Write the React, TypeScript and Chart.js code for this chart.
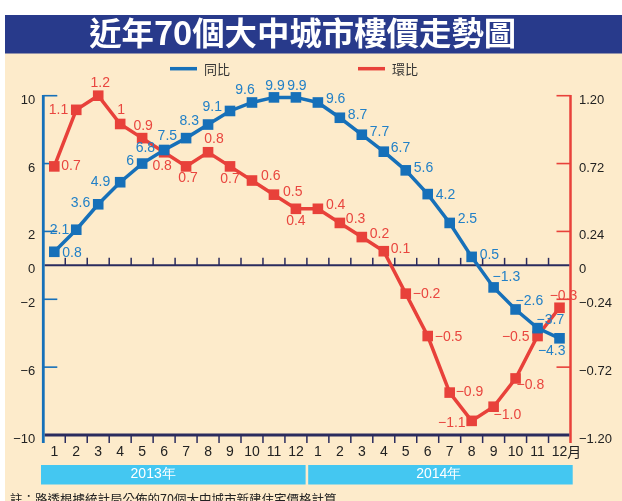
import React, { useEffect, useRef } from 'react';
import { Chart, registerables } from 'chart.js';

Chart.register(...registerables);

// ---------- data ----------
const MONTHS = ['1', '2', '3', '4', '5', '6', '7', '8', '9', '10', '11', '12', '1', '2', '3', '4', '5', '6', '7', '8', '9', '10', '11', '12'];
const YEARS = ['2013年', '2014年'];
const SERIES_NAMES = ['同比', '環比'];
const YOY = [0.8, 2.1, 3.6, 4.9, 6, 6.8, 7.5, 8.3, 9.1, 9.6, 9.9, 9.9, 9.6, 8.7, 7.7, 6.7, 5.6, 4.2, 2.5, 0.5, -1.3, -2.6, -3.7, -4.3];
const MOM = [0.7, 1.1, 1.2, 1, 0.9, 0.8, 0.7, 0.8, 0.7, 0.6, 0.5, 0.4, 0.4, 0.3, 0.2, 0.1, -0.2, -0.5, -0.9, -1.1, -1.0, -0.8, -0.5, -0.3];
const LEFT_TICKS = [10, 6, 2, 0, -2, -6, -10];
const RIGHT_TICKS = [1.2, 0.72, 0.24, 0, -0.24, -0.72, -1.2];
const TITLE = '近年70個大中城市樓價走勢圖';
const NOTE = '註：路透根據統計局公佈的70個大中城市新建住宅價格計算';

// ---------- label placement (align, dx, dy) ----------
const YOY_LABEL_POS: [string, number, number][] = [
  ['l', 8, 1], ['r', -7, 0], ['r', -8, -1], ['r', -10, 0], ['r', -8, -2.5], ['r', -9, -2],
  ['r', -9, -2], ['r', -9, -3], ['r', -8, -4], ['c', -7, -12], ['c', 1, -11], ['c', 1, -11],
  ['l', 8, -3], ['l', 8, -3], ['l', 8, -3], ['l', 7, -4], ['l', 8, -2], ['l', 8, 1],
  ['l', 8, -4], ['l', 8, -2], ['l', -1, -10], ['l', 0, -8], ['l', -1, -8], ['r', 6, 13],
];
const MOM_LABEL_POS: [string, number, number][] = [
  ['l', 7, 0], ['r', -8, 0], ['c', 2, -13], ['c', 1, -14], ['c', 1, -12], ['c', -2, 14],
  ['c', 2, 12], ['c', 6, -13], ['c', 0, 13], ['l', 9, -4], ['l', 9, -3], ['c', 0, 12.5],
  ['l', 8, -3.5], ['l', 6, -4], ['l', 8, -3], ['l', 7, -2], ['l', 7, 1], ['l', 7, 1],
  ['l', 6, 0], ['r', -6, 2], ['l', 0, 8], ['l', 1, 7], ['r', -8, 1], ['c', 4, -12],
];

// ---------- styles ----------
const W = 622;
const H = 501;
const BLUE = '#1670B9';
const BLUE_TXT = '#2280C7';
const RED = '#E8413A';
const RED_TXT = '#E9463F';
const NAVY = '#2A2B5E';
const BG = '#FDEBCB';
const TITLE_BG = '#283A8B';
const YEAR_BG = '#44C7F1';
const TEXT = '#222222';
const LATIN = '"Liberation Sans", Arial, Helvetica, sans-serif';
const CJK = '"Noto Sans CJK TC", "Noto Sans CJK SC", sans-serif';

const fmt = (v: number) => (v === -1 ? '−1.0' : String(v).replace('-', '−'));

const line = (ctx: CanvasRenderingContext2D, x1: number, y1: number, x2: number, y2: number) => {
  ctx.beginPath();
  ctx.moveTo(x1, y1);
  ctx.lineTo(x2, y2);
  ctx.stroke();
};

const decorPlugin = {
  id: 'decor',
  beforeDraw(chart: any) {
    const ctx: CanvasRenderingContext2D = chart.ctx;
    const { left, right } = chart.chartArea;
    const step = (right - left) / MONTHS.length;
    ctx.save();
    ctx.fillStyle = '#ffffff';
    ctx.fillRect(0, 0, W, H);
    ctx.fillStyle = BG;
    ctx.fillRect(5, 15, W - 5, H - 15);
    ctx.fillStyle = TITLE_BG;
    ctx.fillRect(5, 15, W - 5, 38.5);

    // title
    ctx.save();
    ctx.font = `bold 32px ${CJK}`;
    const tw = ctx.measureText(TITLE).width;
    ctx.translate(302.7, 33);
    ctx.scale(427 / tw, 1);
    ctx.fillStyle = '#ffffff';
    ctx.textAlign = 'center';
    ctx.textBaseline = 'middle';
    ctx.fillText(TITLE, 0, 0);
    ctx.restore();

    // legend
    const legendItems = [
      { name: SERIES_NAMES[0], color: BLUE, x: 170 },
      { name: SERIES_NAMES[1], color: RED, x: 358 },
    ];
    ctx.lineWidth = 3.5;
    ctx.font = `13px ${CJK}`;
    ctx.textAlign = 'left';
    ctx.textBaseline = 'middle';
    legendItems.forEach((it) => {
      ctx.strokeStyle = it.color;
      line(ctx, it.x, 68.7, it.x + 27, 68.7);
      ctx.fillStyle = '#333333';
      ctx.fillText(it.name, it.x + 34, 68.7);
    });

    // year bars
    const mid = left + 12 * step;
    ctx.fillStyle = YEAR_BG;
    ctx.fillRect(left - 2.3, 465, mid - 1.3 - (left - 2.3), 19.5);
    ctx.fillRect(mid + 1.3, 465, right + 2.2 - (mid + 1.3), 19.5);
    ctx.fillStyle = '#ffffff';
    ctx.font = `14px ${LATIN}`;
    ctx.textAlign = 'center';
    ctx.fillText(YEARS[0], left + 5 * step, 474.5);
    ctx.fillText(YEARS[1], left + 18 * step, 474.5);

    // note
    ctx.fillStyle = TEXT;
    ctx.font = `12.5px ${CJK}`;
    ctx.textAlign = 'left';
    ctx.textBaseline = 'top';
    ctx.fillText(NOTE, 10, 493);
    ctx.restore();
  },
  beforeDatasetsDraw(chart: any) {
    const ctx: CanvasRenderingContext2D = chart.ctx;
    const { left, right, top, bottom } = chart.chartArea;
    const y = chart.scales.y;
    const y1 = chart.scales.y1;
    const step = (right - left) / MONTHS.length;
    const zeroY = y.getPixelForValue(0);
    ctx.save();
    ctx.lineCap = 'butt';
    // left axis
    ctx.strokeStyle = BLUE;
    ctx.lineWidth = 1.6;
    LEFT_TICKS.filter((v) => v !== 0 && v !== -10).forEach((v) => {
      const p = y.getPixelForValue(v);
      line(ctx, left, p, left + 14, p);
    });
    ctx.lineWidth = 2.8;
    line(ctx, left, top - 0.8, left, bottom + 8);
    // right axis
    ctx.strokeStyle = RED;
    ctx.lineWidth = 1.6;
    RIGHT_TICKS.filter((v) => v !== 0 && v !== -1.2).forEach((v) => {
      const p = y1.getPixelForValue(v);
      line(ctx, right - 14, p, right, p);
    });
    ctx.lineWidth = 2.5;
    line(ctx, right, top - 0.8, right, bottom + 8);
    // zero line
    ctx.strokeStyle = NAVY;
    ctx.lineWidth = 2;
    line(ctx, left + 1.4, zeroY, right - 1.2, zeroY);
    ctx.lineWidth = 1.5;
    for (let k = 1; k < MONTHS.length; k++) {
      const bx = left + k * step;
      line(ctx, bx, zeroY - 7.5, bx, zeroY);
    }
    // bottom line
    ctx.lineWidth = 3;
    line(ctx, left + 1.4, bottom, right - 1.2, bottom);
    ctx.lineWidth = 1.5;
    for (let k = 1; k < MONTHS.length; k++) {
      const bx = left + k * step;
      line(ctx, bx, bottom, bx, bottom + 8);
    }
    ctx.restore();
  },
  afterDatasetsDraw(chart: any) {
    const ctx: CanvasRenderingContext2D = chart.ctx;
    ctx.save();
    ctx.font = `14px ${LATIN}`;
    ctx.textBaseline = 'middle';
    const draw = (dsIndex: number, values: number[], pos: [string, number, number][], color: string) => {
      const meta = chart.getDatasetMeta(dsIndex);
      meta.data.forEach((pt: any, i: number) => {
        const [al, dx, dy] = pos[i];
        ctx.textAlign = al === 'l' ? 'left' : al === 'r' ? 'right' : 'center';
        ctx.fillStyle = color;
        ctx.fillText(fmt(values[i]), pt.x + dx, pt.y + dy);
      });
    };
    draw(1, MOM, MOM_LABEL_POS, RED_TXT);
    draw(0, YOY, YOY_LABEL_POS, BLUE_TXT);
    // "月" after the last month label
    const x = chart.scales.x;
    const lastX = x.getPixelForValue(MONTHS.length - 1);
    ctx.font = `14px ${LATIN}`;
    const w12 = ctx.measureText(MONTHS[MONTHS.length - 1]).width;
    ctx.font = `14px ${CJK}`;
    ctx.fillStyle = TEXT;
    ctx.textAlign = 'left';
    ctx.fillText('月', lastX + w12 / 2, chart.chartArea.bottom + 17);
    ctx.restore();
  },
};

export default function App() {
  const ref = useRef<HTMLCanvasElement>(null);
  useEffect(() => {
    if (!ref.current) return;
    const chart = new Chart(ref.current, {
      type: 'line',
      data: {
        labels: MONTHS,
        datasets: [
          {
            label: SERIES_NAMES[0],
            data: YOY,
            yAxisID: 'y',
            borderColor: BLUE,
            backgroundColor: BLUE,
            borderWidth: 3.5,
            pointStyle: 'rect',
            pointRadius: 7.5,
            pointBorderWidth: 0,
            pointBackgroundColor: BLUE,
            tension: 0,
            clip: false as any,
          },
          {
            label: SERIES_NAMES[1],
            data: MOM,
            yAxisID: 'y1',
            borderColor: RED,
            backgroundColor: RED,
            borderWidth: 3.5,
            pointStyle: 'rect',
            pointRadius: 7.5,
            pointBorderWidth: 0,
            pointBackgroundColor: RED,
            tension: 0,
            clip: false as any,
          },
        ],
      },
      options: {
        responsive: false,
        animation: false,
        devicePixelRatio: 1,
        events: [],
        layout: { padding: { top: 95.7, left: 0, right: 0, bottom: 0 } },
        plugins: { legend: { display: false }, tooltip: { enabled: false } },
        scales: {
          x: {
            type: 'category',
            offset: true,
            grid: { display: false, drawTicks: false },
            border: { display: false },
            ticks: {
              autoSkip: false,
              maxRotation: 0,
              padding: 9,
              color: TEXT,
              font: { size: 14, family: LATIN },
            },
            afterFit: (s: any) => { s.height = H - 435; },
          },
          y: {
            type: 'linear',
            position: 'left',
            min: -10,
            max: 10,
            grid: { display: false, drawTicks: false },
            border: { display: false },
            afterBuildTicks: (s: any) => { s.ticks = LEFT_TICKS.map((v) => ({ value: v })); },
            ticks: {
              padding: 8,
              labelOffset: 4.5,
              color: TEXT,
              font: { size: 13, family: LATIN },
              callback: (v: any) => String(v).replace('-', '−'),
            },
            afterFit: (s: any) => { s.width = 43.3; },
          },
          y1: {
            type: 'linear',
            position: 'right',
            min: -1.2,
            max: 1.2,
            grid: { display: false, drawTicks: false },
            border: { display: false },
            afterBuildTicks: (s: any) => { s.ticks = RIGHT_TICKS.map((v) => ({ value: v })); },
            ticks: {
              padding: 8.5,
              labelOffset: 4.5,
              color: TEXT,
              font: { size: 13, family: LATIN },
              callback: (v: any) => (Number(v) === 0 ? '0' : Number(v).toFixed(2).replace('-', '−')),
            },
            afterFit: (s: any) => { s.width = W - 570.5; },
          },
        },
      },
      plugins: [decorPlugin],
    } as any);
    return () => chart.destroy();
  }, []);
  return (
    <div style={{ position: 'absolute', left: 0, top: 0, width: W, height: H }}>
      <canvas ref={ref} width={W} height={H} style={{ display: 'block', width: W, height: H }} />
    </div>
  );
}
